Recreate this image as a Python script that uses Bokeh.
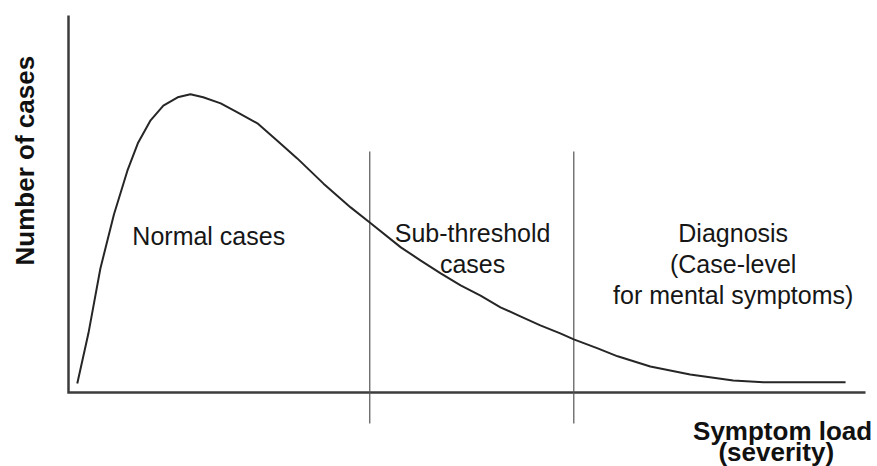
import math
from bokeh.plotting import figure
from bokeh.models import Range1d
from bokeh.core.properties import value
from bokeh.embed import file_html
from bokeh.resources import INLINE

# ---- data ----
severity = [1.1, 2.5, 4.0, 5.7, 7.4, 8.7, 10.3, 11.9, 13.7, 15.3, 16.9, 19.1, 21.2,
            23.7, 26.2, 28.7, 32.0, 35.4, 37.8, 41.7, 44.2, 46.7, 49.2, 51.7, 54.2,
            56.7, 59.2, 61.7, 63.4, 66.4, 68.9, 73.0, 78.0, 83.4, 87.2, 97.5]
cases = [2.4, 15.7, 32.9, 47.2, 58.9, 66.1, 72.2, 76.1, 78.3, 79.1, 78.3, 76.7, 74.3,
         71.4, 66.8, 62.1, 55.4, 49.1, 45.1, 38.5, 35.0, 31.6, 28.4, 25.7, 22.6,
         20.2, 17.8, 15.7, 14.1, 11.7, 9.6, 6.9, 4.8, 3.2, 2.7, 2.7]
thresholds = [37.8, 63.4]
region_lines = [["Normal cases"],
                ["Sub-threshold", "cases"],
                ["Diagnosis", "(Case-level", "for mental symptoms)"]]
region_centers = [17.6, 50.7, 83.4]
x_label_lines = ["Symptom load", "(severity)"]
y_label = "Number of cases"

# ---- layout ----
W, H = 877, 466
PX_X = 7.97   # px per x unit
PX_Y = 3.77   # px per y unit
ORIGIN_X = 68   # canvas px of x=0
ORIGIN_Y = 392  # canvas px (from top) of y=0

x_range = Range1d(-ORIGIN_X / PX_X, (W - ORIGIN_X) / PX_X)
y_range = Range1d(-(H - ORIGIN_Y) / PX_Y, ORIGIN_Y / PX_Y)

p = figure(width=W, height=H, x_range=x_range, y_range=y_range,
           output_backend="svg", toolbar_location=None, min_border=0,
           background_fill_color="white", border_fill_color="white")
p.axis.visible = False
p.grid.visible = False
p.outline_line_color = None

FONT = value("Liberation Sans")
TXT = "#161616"

# axes as an L-shaped line
p.line(x=[0, 0, 100], y=[100, 0, 0], line_color="#3c3c3c", line_width=2.5,
       line_join="miter")

# threshold lines
p.segment(x0=thresholds, y0=[63.9] * len(thresholds), x1=thresholds,
          y1=[-8.2] * len(thresholds), line_color="#555555", line_width=1.2)

# distribution curve
p.line(x=severity, y=cases, line_color="#262626", line_width=2)

# region labels
LINE_STEP = 31 / PX_Y
tx, ty, tt = [], [], []
base_y = [41.6, 42.2, 42.2]
for cx, by, lines in zip(region_centers, base_y, region_lines):
    for i, s in enumerate(lines):
        tx.append(cx)
        ty.append(by - i * LINE_STEP)
        tt.append(s)
p.text(x=tx, y=ty, text=tt, text_font=FONT, text_font_size="25px",
       text_align="center", text_baseline="alphabetic", text_color=TXT)

# axis titles
p.text(x=[89.6, 88.8], y=[-10.1, -15.9], text=x_label_lines, text_font=FONT,
       text_font_size="26px", text_font_style="bold", text_align="center",
       text_baseline="alphabetic", text_color="#111111")
p.text(x=[-5.4], y=[61.5], text=[y_label], angle=math.pi / 2, text_font=FONT,
       text_font_size="26px", text_font_style="bold", text_align="center",
       text_baseline="middle", text_color="#111111")

open("out.html", "w").write(file_html(p, INLINE))
